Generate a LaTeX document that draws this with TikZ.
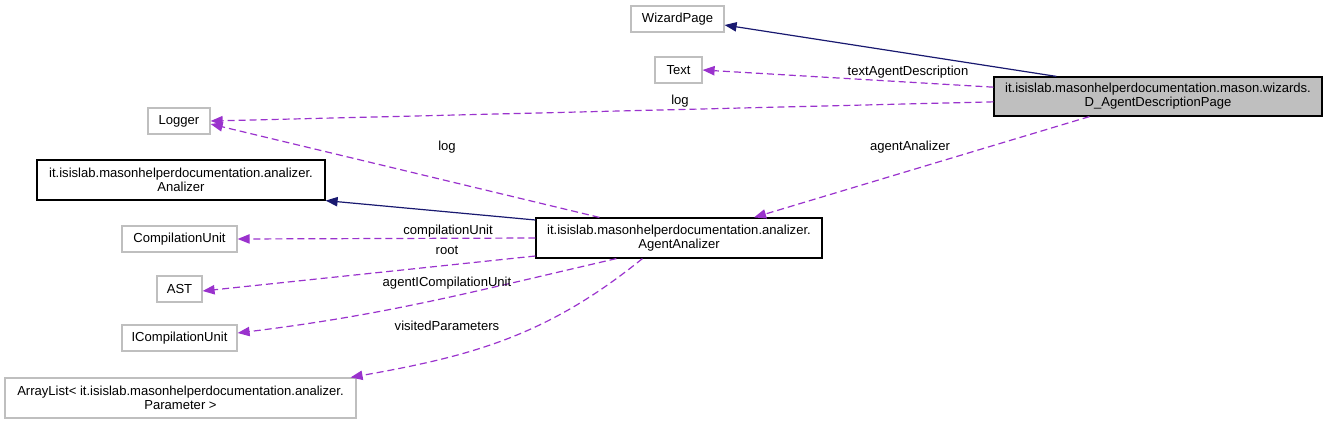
\documentclass[tikz,border=0pt]{standalone}
\usepackage{fontspec}
\setmainfont{Liberation Sans}
\definecolor{navy1}{RGB}{25, 25, 112}
\definecolor{purple1}{RGB}{154, 50, 205}
\definecolor{gray1}{RGB}{191, 191, 191}
\usepackage{tikz}
\usetikzlibrary{arrows.meta, positioning}

\begin{document}
\begin{tikzpicture}[x=0.75pt, y=-0.75pt,
    every node/.style={font=\fontsize{9.8}{10.5}\selectfont},
    cls/.style={draw=gray1, fill=white, line width=0.9pt, align=center, inner sep=0pt, minimum height=19.5pt},
    clsdoc/.style={draw=black, fill=white, line width=0.9pt, align=center, inner sep=0pt, minimum height=30pt},
    inherit/.style={draw=navy1, line width=0.9pt, -{Triangle[length=9pt, width=7pt]}},
    uses/.style={draw=purple1, line width=0.9pt, dash pattern=on 5.25pt off 3pt, -{Triangle[length=9pt, width=7pt]}},
    lbl/.style={inner sep=1pt}]
  \useasboundingbox (0,0) rectangle (1328,425);

  % classes
  \node[cls, minimum width=69.75pt] (wiz) at (677.5,19) {WizardPage};
  \node[cls, minimum width=35.25pt] (txt) at (678.5,70) {Text};
  \node[clsdoc, fill=gray1, minimum width=246pt, minimum height=29.25pt] (dpage) at (1158,96.5)
    {it.isislab.masonhelperdocumentation.mason.wizards.\\D\_AgentDescriptionPage};
  \node[cls, minimum width=46.5pt] (logger) at (179,121) {Logger};
  \node[clsdoc, minimum width=216pt] (an) at (181,180)
    {it.isislab.masonhelperdocumentation.analizer.\\Analizer};
  \node[clsdoc, minimum width=214.5pt] (aa) at (679,238)
    {it.isislab.masonhelperdocumentation.analizer.\\AgentAnalizer};
  \node[cls, minimum width=86.25pt] (cu) at (179.5,239) {CompilationUnit};
  \node[cls, minimum width=33.75pt] (ast) at (179.5,289) {AST};
  \node[cls, minimum width=86.25pt] (icu) at (179.5,338) {ICompilationUnit};
  \node[cls, minimum width=263.25pt, minimum height=30pt] (al) at (180.5,398)
    {ArrayList< it.isislab.masonhelperdocumentation.analizer.\\Parameter >};

  % edges
  \draw[inherit] ([xshift=47.25pt]dpage.north west) -- ([yshift=-4.5pt]wiz.east);
  \draw[uses] ([yshift=7pt]dpage.west) -- (txt.east);
  \draw[uses] ([yshift=-4pt]dpage.west) -- (logger.east);
  \draw[uses] ([xshift=72pt]dpage.south west) -- ([xshift=164pt]aa.north west);
  \draw[uses] ([xshift=48pt]aa.north west) -- ([yshift=-2.25pt]logger.east);
  \draw[inherit] ([yshift=13.5pt]aa.west) -- (an.south east);
  \draw[uses] (aa.west) -- (cu.east);
  \draw[uses] ([yshift=-13.5pt]aa.west) -- ([yshift=-1.5pt]ast.east);
  \draw[uses] ([xshift=60.75pt]aa.south west) to[out=-167, in=7] ([yshift=3.75pt]icu.east);
  \draw[uses] ([xshift=80.25pt]aa.south west) to[out=-141, in=10] ([xshift=-4.5pt]al.north east);

  % labels
  \node[lbl] (l_text) at (908,72) {textAgentDescription};
  \node[lbl] (l_log1) at (680,101) {log};
  \node[lbl] (l_aa) at (910,147) {agentAnalizer};
  \node[lbl] (l_log2) at (447,147) {log};
  \node[lbl] (l_cu) at (448,231) {compilationUnit};
  \node[lbl] (l_root) at (447,250) {root};
  \node[lbl] (l_icu) at (447,283) {agentICompilationUnit};
  \node[lbl] (l_vp) at (447,326) {visitedParameters};
\end{tikzpicture}
\end{document}
